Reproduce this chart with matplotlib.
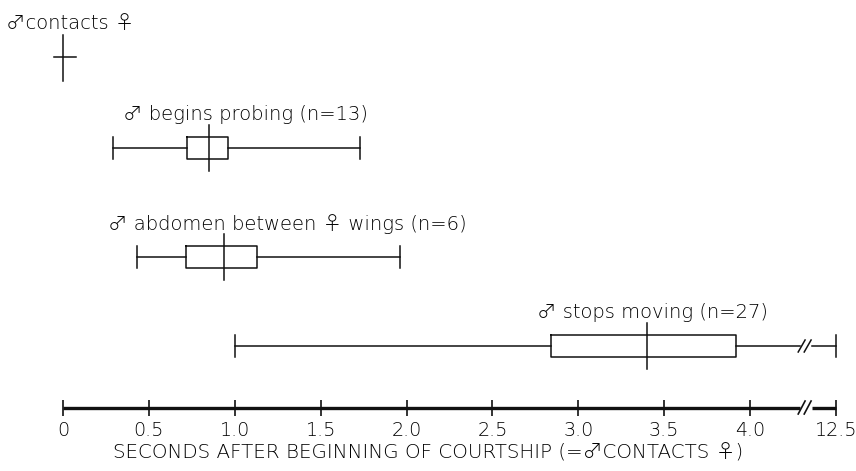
import numpy as np
import matplotlib.pyplot as plt

# data (seconds)
labels = ['\u2642 begins probing (n=13)',
          '\u2642 abdomen between \u2640 wings (n=6)',
          '\u2642 stops moving (n=27)']
whisk_lo = [0.29, 0.43, 1.0]
q1       = [0.72, 0.715, 2.84]
median   = [0.85, 0.94, 3.40]
q3       = [0.96, 1.13, 3.92]
whisk_hi = [1.73, 1.96, 12.5]

tick_vals   = [0, 0.5, 1.0, 1.5, 2.0, 2.5, 3.0, 3.5, 4.0, 12.5]
tick_labels = ['0', '0.5', '1.0', '1.5', '2.0', '2.5', '3.0', '3.5', '4.0', '12.5']

# layout
rows   = [148, 257, 346]
lab_x  = [0.35, 0.26, 2.76]
lab_y  = [115, 224, 313]
brk    = 4.31     # where the axis is broken
brk_to = 4.5      # display position of 12.5


def pos(v):
    # piecewise scale with a break after 4.3 s
    return v if v <= 4.3 else brk_to


plt.rcParams['font.family'] = ['DejaVu Sans', 'Noto Sans CJK JP', 'DejaVu Serif']
plt.rcParams['font.weight'] = 'light'

W, H = 856, 471
fig = plt.figure(figsize=(W / 100, H / 100), dpi=100)
ax = fig.add_axes([0, 63 / H, 1, 408 / H])
ax.set_xlim(-63 / 171.8, brk_to + 20 / 171.8)
ax.set_ylim(408, 0)

lw = 1.1
col = '#111111'
tcol = '#000000'
fs = 14.0

# "male contacts female" marker at t = 0
ax.plot([0, 0], [35, 81], color=col, lw=lw)
ax.plot([-0.055, 0.075], [57, 57], color=col, lw=lw)
ax.text(-0.33, 24, '\u2642contacts \u2640', fontsize=fs, va='center', ha='left', color=tcol)

bh = 11   # half box height
for i in range(3):
    y = rows[i]
    lo, a, m, b, hi = pos(whisk_lo[i]), pos(q1[i]), pos(median[i]), pos(q3[i]), pos(whisk_hi[i])
    ax.plot([a, b, b, a, a], [y - bh, y - bh, y + bh, y + bh, y - bh], color=col, lw=lw)
    ax.plot([m, m], [y - 23, y + 23], color=col, lw=lw)
    ax.plot([lo, a], [y, y], color=col, lw=lw)
    ax.plot([lo, lo], [y - bh, y + bh], color=col, lw=lw)
    ax.plot([hi, hi], [y - bh, y + bh], color=col, lw=lw)
    if whisk_hi[i] > 4.3:
        ax.plot([b, brk - 0.02], [y, y], color=col, lw=lw)
        ax.plot([brk + 0.05, hi], [y, y], color=col, lw=lw)
        for dx in (-0.01, 0.025):
            ax.plot([brk + dx - 0.02, brk + dx + 0.02], [y + 6, y - 6], color=col, lw=lw)
    else:
        ax.plot([b, hi], [y, y], color=col, lw=lw)
    ax.text(lab_x[i], lab_y[i], labels[i], fontsize=fs, va='center', ha='left', color=tcol)

# axis
for s in ['top', 'left', 'right', 'bottom']:
    ax.spines[s].set_visible(False)
ax.plot([0, brk - 0.02], [408, 408], color=col, lw=2.4, clip_on=False, solid_capstyle='butt')
ax.plot([brk + 0.05, brk_to], [408, 408], color=col, lw=2.4, clip_on=False, solid_capstyle='butt')
for dx in (-0.01, 0.025):
    ax.plot([brk + dx - 0.02, brk + dx + 0.02], [414, 401], color=col, lw=1.2, clip_on=False)
ax.set_yticks([])
ax.set_xticks([pos(v) for v in tick_vals])
ax.set_xticklabels(tick_labels, fontsize=13.8, color=tcol)
ax.tick_params(axis='x', direction='inout', length=11, width=1.2, color=col, pad=4)
ax.set_xlabel('SECONDS AFTER BEGINNING OF COURTSHIP (=\u2642CONTACTS \u2640)',
              fontsize=14.3, color=tcol, labelpad=2, fontweight='light')

fig.savefig('out.png', dpi=100)
